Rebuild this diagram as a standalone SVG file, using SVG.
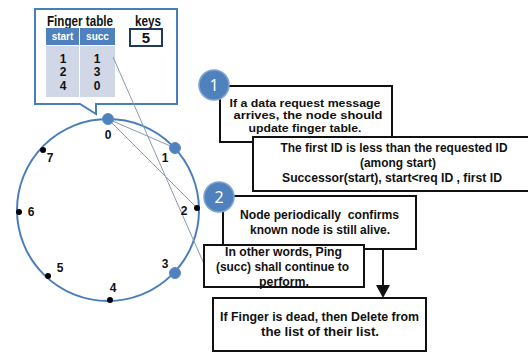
<svg xmlns="http://www.w3.org/2000/svg" width="528" height="352" viewBox="0 0 528 352">
<style>
.t{font-family:"Liberation Sans",Arial,sans-serif;font-weight:bold;fill:#111;text-anchor:middle}
.box{fill:#fff;stroke:#111;stroke-width:2}
.conn{stroke:#8a9bb0;stroke-width:1;fill:none}
.node{fill:#4f81bd;stroke:#5b8cc8;stroke-width:1}
.dot{fill:#000}
.badge{fill:#4f81bd;stroke:#7fa3d3;stroke-width:1.5}
.bt{font-family:"Noto Sans","Liberation Sans",sans-serif;fill:#fff;font-size:16px;text-anchor:middle}
.lbl{font-family:"Liberation Sans",Arial,sans-serif;font-weight:bold;font-size:12px;fill:#111;text-anchor:middle}
.sm{font-size:11px}
</style>
<rect width="528" height="352" fill="#fff"/>
<g id="callout">
<path d="M35,9 H177 V104 H96 V114 L80,104 H35 Z" fill="#fff" stroke="#4a7ebb" stroke-width="2"/>
<text class="t" x="80" y="26" font-size="14" textLength="66" lengthAdjust="spacingAndGlyphs">Finger table</text>
<text class="t" x="148" y="26" font-size="14" textLength="26" lengthAdjust="spacingAndGlyphs">keys</text>
<rect x="46" y="28" width="33" height="17" fill="#4f81bd"/>
<rect x="80" y="28" width="35" height="17" fill="#4f81bd"/>
<text class="t" x="62.5" y="40" font-size="10" style="fill:#fff">start</text>
<text class="t" x="97.5" y="40" font-size="10" style="fill:#fff">succ</text>
<rect x="46" y="46" width="33" height="51" fill="#d0d8e8"/>
<rect x="80" y="46" width="35" height="51" fill="#d0d8e8"/>
<text class="t" font-size="12"><tspan x="63" y="62.5">1</tspan><tspan x="63" y="76">2</tspan><tspan x="63" y="89.5">4</tspan></text>
<text class="t" font-size="12"><tspan x="97" y="62.5">1</tspan><tspan x="97" y="76">3</tspan><tspan x="97" y="89.5">0</tspan></text>
<rect x="130" y="29" width="32" height="17" fill="#fff" stroke="#1f3a5f" stroke-width="2"/>
<text class="t" x="146" y="43" font-size="15">5</text>
</g>
<g id="ring">
<circle cx="108" cy="210" r="91" fill="none" stroke="#4a7ebb" stroke-width="2"/>
</g>
<g id="connectors">
<line class="conn" x1="108" y1="119" x2="175" y2="148"/>
<line class="conn" x1="108" y1="119" x2="197" y2="208"/>
<line class="conn" x1="113" y1="57" x2="204" y2="264"/>
<line x1="223" y1="210" x2="223" y2="246" stroke="#111" stroke-width="2"/>
<line x1="383" y1="249" x2="383" y2="286" stroke="#111" stroke-width="2"/>
<polygon points="376,285 390,285 383,298" fill="#111"/>
</g>
<g id="n0"><circle class="node" cx="108" cy="119" r="5.5"/><text class="lbl" x="108" y="139">0</text></g>
<g id="n1"><circle class="node" cx="175" cy="148" r="5.5"/><text class="lbl" x="165" y="162">1</text></g>
<g id="n2"><circle class="dot" cx="197" cy="208" r="3"/><text class="lbl" x="184" y="215">2</text></g>
<g id="n3"><circle class="node" cx="175" cy="273" r="5.5"/><text class="lbl" x="165" y="268">3</text></g>
<g id="n4"><circle class="dot" cx="110" cy="300" r="3"/><text class="lbl" x="113" y="292">4</text></g>
<g id="n5"><circle class="dot" cx="48" cy="276" r="3"/><text class="lbl" x="60" y="272">5</text></g>
<g id="n6"><circle class="dot" cx="19" cy="212" r="3"/><text class="lbl" x="31" y="216">6</text></g>
<g id="n7"><circle class="dot" cx="43" cy="150" r="3"/><text class="lbl" x="50" y="162">7</text></g>
<g id="box1">
<rect class="box" x="220" y="86" width="172" height="56"/>
<text class="lbl sm" lengthAdjust="spacingAndGlyphs"><tspan x="305" y="106.5" textLength="151" lengthAdjust="spacingAndGlyphs">If a data request message</tspan><tspan x="308" y="119" textLength="149" lengthAdjust="spacingAndGlyphs">arrives, the node should</tspan><tspan x="305" y="131.5" textLength="113" lengthAdjust="spacingAndGlyphs">update finger table.</tspan></text>
</g>
<g id="badge1"><circle class="badge" cx="214" cy="85" r="15"/><text class="bt" x="214" y="91">1</text></g>
<g id="box2">
<rect class="box" x="253" y="137" width="280" height="54"/>
<text class="lbl"><tspan x="394" y="152" textLength="227" lengthAdjust="spacingAndGlyphs">The first ID is less than the requested ID</tspan><tspan x="398" y="167" textLength="76" lengthAdjust="spacingAndGlyphs">(among start)</tspan><tspan x="392" y="182" textLength="220" lengthAdjust="spacingAndGlyphs">Successor(start), start&lt;req ID , first ID</tspan></text>
</g>
<g id="box3">
<rect class="box" x="223" y="196" width="193" height="53"/>
<text class="lbl" xml:space="preserve"><tspan x="319.5" y="219" textLength="159" lengthAdjust="spacingAndGlyphs">Node periodically  confirms</tspan><tspan x="320" y="234" textLength="140" lengthAdjust="spacingAndGlyphs">known node is still alive.</tspan></text>
</g>
<g id="badge2"><circle class="badge" cx="219" cy="197" r="15"/><text class="bt" x="219" y="203">2</text></g>
<g id="box4">
<rect class="box" x="204" y="245" width="160" height="42"/>
<text class="lbl"><tspan x="283.5" y="256" textLength="117" lengthAdjust="spacingAndGlyphs">In other words, Ping</tspan><tspan x="282.5" y="271" textLength="133" lengthAdjust="spacingAndGlyphs">(succ) shall continue to</tspan><tspan x="284" y="286" textLength="50" lengthAdjust="spacingAndGlyphs">perform.</tspan></text>
</g>
<g id="box5">
<rect class="box" x="213" y="298" width="213" height="53"/>
<text class="lbl"><tspan x="319.5" y="321" textLength="199" lengthAdjust="spacingAndGlyphs">If Finger is dead, then Delete from</tspan><tspan x="320" y="336" textLength="118" lengthAdjust="spacingAndGlyphs">the list of their list.</tspan></text>
</g>
</svg>
